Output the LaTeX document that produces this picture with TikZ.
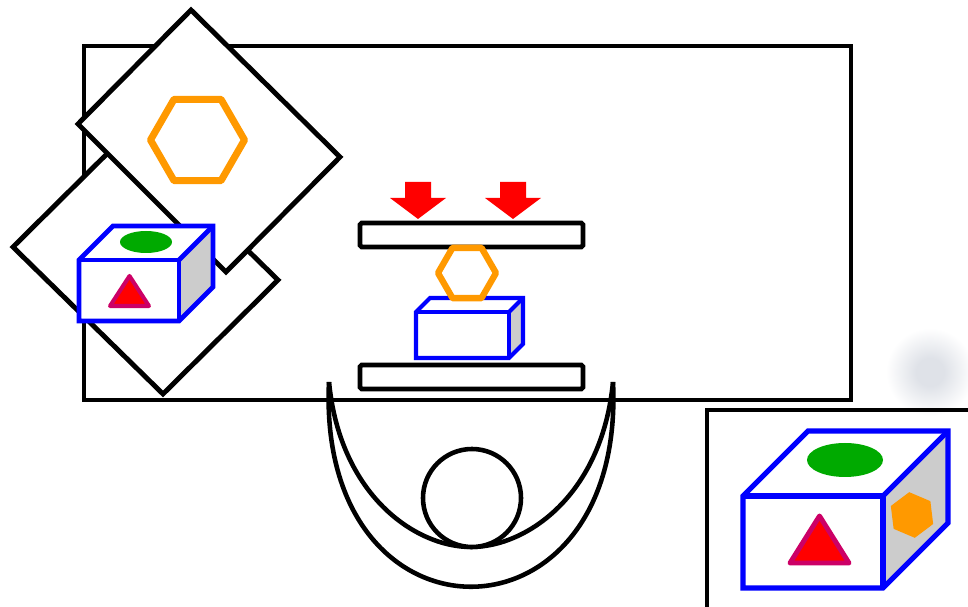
\documentclass[tikz,border=0pt]{standalone}
\usepackage{xcolor}
\definecolor{boxblue}{HTML}{0000FF}
\definecolor{hexorange}{HTML}{FF9900}
\definecolor{pressred}{HTML}{FF0000}
\definecolor{tricrimson}{HTML}{CC0066}
\definecolor{dotgreen}{HTML}{00AA00}
\definecolor{sidegrey}{HTML}{CCCCCC}
\definecolor{blobgrey}{HTML}{DFE2E8}

% soft spot: flat middle, fading out towards the rim
\pgfdeclareradialshading{softspot}{\pgfpoint{0bp}{0bp}}{%
  color(0bp)=(blobgrey); color(7bp)=(blobgrey); color(22bp)=(white); color(50bp)=(white)}

\tikzset{
  outline/.style={line width=2.8pt},
  plate/.style={line width=2.8pt, fill=white, rounded corners=1pt},
  hexline/.style={draw=hexorange, fill=white, line join=round},
  triangle/.style={draw=tricrimson, fill=pressred, line join=round},
  boxline/.style={draw=boxblue, line join=miter}
}

% box in cabinet view: x, y of front top-left corner, width, height, depth, line width
\newcommand{\boxprism}[6]{%
  \fill[white] (#1,#2) -- ++(#5,-#5) -- ++(#3,0) -- ++(-#5,#5) -- ++(0,#4) -- ++(-#3,0) -- cycle;
  \fill[sidegrey] (#1+#3,#2) -- ++(#5,-#5) -- ++(0,#4) -- ++(-#5,#5) -- cycle;
  % silhouette first, then the inner edges
  \draw[boxline, line width=#6] (#1,#2+#4) -- ++(0,-#4) -- ++(#5,-#5) -- ++(#3,0) -- ++(0,#4) -- ++(-#5,#5) -- cycle;
  \draw[boxline, line width=#6] (#1,#2) -- ++(#3,0) -- ++(0,#4);
  \draw[boxline, line width=#6] (#1+#3,#2) -- ++(#5,-#5);
}

\begin{document}
\begin{tikzpicture}[x=0.02cm,y=-0.02cm]
\useasboundingbox (0,0) rectangle (968,607);
%\draw[step=50,gray,very thin] (0,0) grid (968,607); %background grid

% blurred spot on the right
\shade[shading=softspot] (930,372) circle (50);

% table
\draw[outline] (84,46) rectangle (851,400);

% the two sheets lying on the table
\filldraw[outline, fill=white] (13,247) -- (163,394) -- (278,280) -- (128,133) -- cycle;
\filldraw[outline, fill=white] (191,10) -- (340,157) -- (226,272) -- (78,124) -- cycle;
\draw[hexline, line width=4pt] (197.5,140) +(0:47) \foreach \a in {60,120,...,300} {-- +(\a:47)} -- cycle;

% small box on the lower sheet
\boxprism{79}{260}{100}{61}{34}{2.8pt}
\fill[dotgreen] (146,242) ellipse [x radius=26, y radius=11];
\filldraw[triangle, line width=2.3pt] (110,306) -- (149,306) -- (129.5,276) -- cycle;

% press plates and arrows
\draw[plate] (360,223) rectangle (583,247);
\draw[plate] (360,365) rectangle (583,389);
\foreach \ax in {418,513}
  \fill[pressred] (\ax-13,182) -- (\ax+13,182) -- (\ax+13,198) -- (\ax+28,198)
    -- (\ax,219) -- (\ax-28,198) -- (\ax-13,198) -- cycle;

% block and hexagon between the plates
\boxprism{416}{312}{93}{46}{14}{2.3pt}
\draw[hexline, line width=3.6pt] (467,273) +(0:29) \foreach \a in {60,120,...,300} {-- +(\a:29)} -- cycle;

% person seen from above
\draw[outline, line width=2.6pt] (329,382) .. controls (316,655) and (626,655) .. (613,382);
\draw[outline, line width=2.6pt] (329,382) .. controls (340,495) and (415,547) .. (471,547)
  .. controls (527,547) and (602,495) .. (613,382);
\filldraw[outline, line width=2.6pt, fill=white] (472,498) circle (49);

% enlarged view of the box
\draw[outline] (707,410) rectangle (990,630);
\boxprism{743}{496}{140}{92}{65}{3pt}
\fill[dotgreen] (845,460) ellipse [x radius=38, y radius=17];
\filldraw[triangle, line width=2.8pt] (790,563) -- (849,563) -- (819.5,516) -- cycle;
\fill[hexorange] (912,515) +(-97:23) \foreach \a in {-37,23,83,143,203} {-- +(\a:23)} -- cycle;
\end{tikzpicture}
\end{document}
